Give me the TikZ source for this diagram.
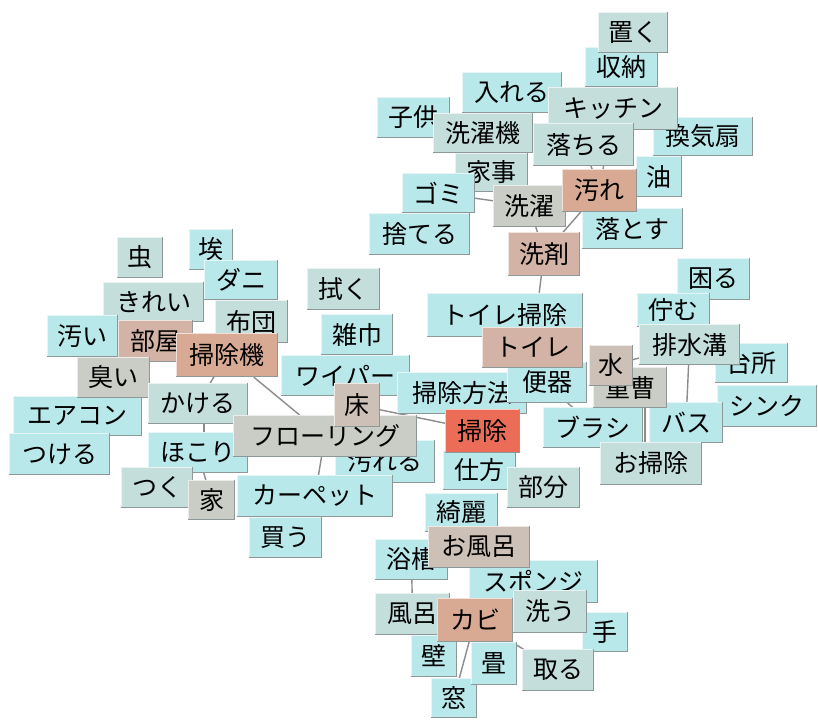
\documentclass[tikz,border=0pt]{standalone}
\usepackage{fontspec}
\newfontfamily\jpfont{Noto Sans CJK JP}
\pgfdeclarelayer{back}
\pgfdeclarelayer{bg}
\pgfsetlayers{back,bg,main}
\definecolor{cCy}{HTML}{B9E8EA}
\definecolor{cGc}{HTML}{C3DEDB}
\definecolor{cGr}{HTML}{C9CDC5}
\definecolor{cTn}{HTML}{CDC0B6}
\definecolor{cT2}{HTML}{D2B3A5}
\definecolor{cSa}{HTML}{D8A993}
\definecolor{cRd}{HTML}{EC6D57}
\definecolor{cShd}{HTML}{8E9898}
\definecolor{cEdge}{HTML}{8C8C8C}
\tikzset{
  wb/.style={rectangle, inner sep=0pt, text=black, font=\jpfont\fontsize{25}{25}\selectfont},
  hil/.style={draw=white, draw opacity=0.65, line width=1.3pt},
  shd/.style={draw=cShd, line width=1.5pt},
  link/.style={draw=cEdge, line width=1.4pt}
}
\newcommand\wbox[7]{%
  \node[wb, fill=#6, minimum width={#4-#2}, minimum height={#5-#3}] (#1) at ({(#2+#4)/2},{(#3+#5)/2}) {#7};
  \draw[hil] ([xshift=0.6pt,yshift=1pt]#1.south west) -- ([xshift=0.6pt,yshift=-0.6pt]#1.north west) -- ([xshift=-1pt,yshift=-0.6pt]#1.north east);
  \draw[shd] ([xshift=-0.75pt]#1.north east) -- ([xshift=-0.75pt,yshift=0.75pt]#1.south east) -- ([yshift=0.75pt]#1.south west);
}
\begin{document}
\begin{tikzpicture}[x=1pt,y=-1pt]
\useasboundingbox (0,0) rectangle (818,720);
\begin{pgfonlayer}{back}
\fill[white] (0,0) rectangle (818,720);
\end{pgfonlayer}
% top cluster
\wbox{shuunou}{585}{47}{658}{87}{cCy}{収納}
\wbox{oku}{598}{12}{668}{53}{cGc}{置く}
\wbox{ireru}{462}{72}{562}{113}{cCy}{入れる}
\wbox{kodomo}{377}{97}{450}{138}{cCy}{子供}
\wbox{kankisen}{653}{117}{753}{156}{cCy}{換気扇}
\wbox{kicchin}{548}{87}{678}{130}{cGc}{キッチン}
\wbox{sentakuki}{433}{113}{533}{153}{cGc}{洗濯機}
\wbox{ochiru}{533}{123}{634}{166}{cGc}{落ちる}
\wbox{abura}{636}{156}{682}{197}{cCy}{油}
\wbox{kaji}{455}{153}{528}{192}{cGc}{家事}
\wbox{gomi}{402}{173}{475}{213}{cCy}{ゴミ}
\wbox{suteru}{369}{213}{470}{255}{cCy}{捨てる}
\wbox{sentaku}{493}{185}{566}{227}{cGr}{洗濯}
\wbox{otosu}{582}{208}{683}{249}{cCy}{落とす}
\wbox{yogore}{562}{169}{637}{212}{cSa}{汚れ}
\wbox{senzai}{508}{232}{580}{276}{cT2}{洗剤}
% left cluster
\wbox{hokori2}{189}{229}{233}{270}{cCy}{埃}
\wbox{mushi}{117}{237}{163}{278}{cGc}{虫}
\wbox{dani}{204}{260}{278}{300}{cCy}{ダニ}
\wbox{kirei}{103}{282}{204}{322}{cGc}{きれい}
\wbox{fuku}{307}{268}{380}{310}{cGc}{拭く}
\wbox{zoukin}{321}{314}{393}{355}{cCy}{雑巾}
\wbox{futon}{215}{300}{288}{343}{cGc}{布団}
\wbox{kitanai}{47}{315}{118}{357}{cCy}{汚い}
\wbox{heya}{118}{320}{193}{362}{cT2}{部屋}
\wbox{soujiki}{176}{333}{278}{377}{cSa}{掃除機}
\wbox{eakon}{13}{396}{142}{436}{cCy}{エアコン}
\wbox{kusai}{77}{357}{150}{398}{cGr}{臭い}
\wbox{waipa}{281}{355}{410}{396}{cCy}{ワイパー}
\wbox{tsukeru}{9}{433}{110}{475}{cCy}{つける}
\wbox{kakeru}{148}{383}{248}{424}{cGc}{かける}
\wbox{hokori}{148}{432}{248}{473}{cCy}{ほこり}
\wbox{tsuku}{121}{467}{193}{508}{cGc}{つく}
\wbox{yogoreru}{335}{440}{435}{483}{cCy}{汚れる}
\wbox{flooring}{233}{415}{417}{457}{cGr}{フローリング}
\wbox{houhou}{397}{372}{527}{414}{cCy}{掃除方法}
\wbox{yuka}{334}{383}{380}{427}{cTn}{床}
\wbox{kau}{249}{517}{322}{558}{cCy}{買う}
\wbox{carpet}{237}{475}{393}{517}{cCy}{カーペット}
\wbox{ie}{188}{480}{235}{520}{cGr}{家}
% right cluster
\wbox{komaru}{677}{258}{750}{300}{cCy}{困る}
\wbox{tatazumu}{637}{293}{710}{327}{cCy}{佇む}
\wbox{toiresouji}{427}{293}{583}{337}{cCy}{トイレ掃除}
\wbox{benki}{507}{362}{587}{403}{cCy}{便器}
\wbox{toire}{482}{327}{583}{368}{cT2}{トイレ}
\wbox{daidokoro}{715}{343}{788}{383}{cCy}{台所}
\wbox{shinku}{717}{385}{817}{427}{cCy}{シンク}
\wbox{haisuikou}{639}{324}{740}{365}{cGc}{排水溝}
\wbox{burashi}{543}{407}{643}{448}{cCy}{ブラシ}
\wbox{basu}{649}{402}{723}{443}{cCy}{バス}
\wbox{juusou}{593}{367}{667}{408}{cGr}{重曹}
\wbox{mizu}{589}{345}{633}{386}{cTn}{水}
\wbox{osouji}{600}{442}{702}{485}{cGc}{お掃除}
\wbox{shikata}{443}{450}{516}{490}{cCy}{仕方}
\wbox{souji}{445}{409}{520}{453}{cRd}{掃除}
\wbox{bubun}{507}{467}{580}{508}{cGc}{部分}
% bottom cluster
\wbox{kirei2}{425}{493}{498}{532}{cCy}{綺麗}
\wbox{yokusou}{375}{539}{448}{580}{cCy}{浴槽}
\wbox{sponge}{469}{560}{598}{603}{cCy}{スポンジ}
\wbox{ofuro}{428}{526}{530}{568}{cTn}{お風呂}
\wbox{te}{582}{612}{628}{652}{cCy}{手}
\wbox{mado}{431}{678}{477}{718}{cCy}{窓}
\wbox{kabe}{411}{635}{457}{677}{cCy}{壁}
\wbox{furo}{375}{593}{450}{635}{cGc}{風呂}
\wbox{tatami}{471}{642}{517}{685}{cCy}{畳}
\wbox{toru}{522}{649}{594}{691}{cGc}{取る}
\wbox{arau}{513}{590}{587}{633}{cGc}{洗う}
\wbox{kabi}{437}{598}{513}{642}{cSa}{カビ}
% connectors
\begin{pgfonlayer}{bg}
\draw[link] (soujiki) -- (flooring);
\draw[link] (yuka.center) -- (souji.center);
\draw[link] (flooring.center) -- (carpet.center);
\draw[link] (yogore.center) -- (senzai.center);
\draw[link] (sentaku.center) -- (senzai.center);
\draw[link] (sentaku.center) -- (gomi.center);
\draw[link] (senzai.center) -- (toire.center);
\draw[link] (haisuikou.center) -- (basu.center);
\draw[link] ([xshift=15pt]juusou.south) -- ([xshift=-6pt]osouji.north);
\draw[link] (benki.center) -- (burashi.center);
\draw[link] (soujiki.center) -- (kakeru.center);
\draw[link] ([xshift=6pt]kakeru.center) -- ([xshift=6pt]hokori.center);
\draw[link] (hokori.center) -- (ie.center);
\draw[link] (yokusou.center) -- (furo.center);
\draw[link] (kabi.center) -- (mado.center);
\draw[link] (kabi.center) -- (toru.center);
\draw[link] (ofuro.center) -- (kabi.center);
\draw[link] (ochiru.center) -- (yogore.center);
\draw[link] (kicchin.center) -- (yogore.center);
\draw[link] (mizu.center) -- (haisuikou.center);
\end{pgfonlayer}
\end{tikzpicture}
\end{document}
